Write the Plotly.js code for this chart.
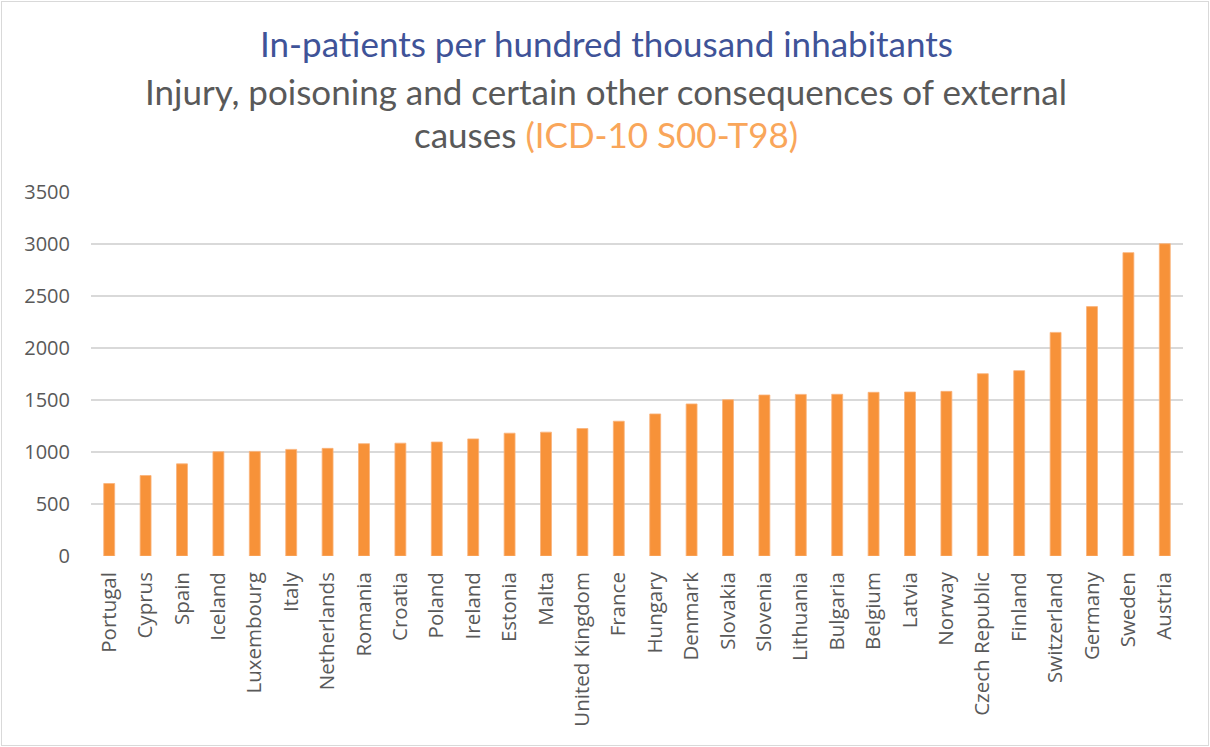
<!DOCTYPE html>
<html>
<head>
<meta charset="utf-8">
<script src="https://cdn.plot.ly/plotly-3.0.1.min.js"></script>
<style>
html,body{margin:0;padding:0;background:#fff;}
#wrap{position:absolute;left:1px;top:1px;width:1206px;height:743px;border:1px solid #d9d9d9;}
#chart{width:1206px;height:743px;}
</style>
</head>
<body>
<div id="wrap"><div id="chart"></div></div>
<script>
const countries = ["Portugal","Cyprus","Spain","Iceland","Luxembourg","Italy","Netherlands","Romania","Croatia","Poland","Ireland","Estonia","Malta","United Kingdom","France","Hungary","Denmark","Slovakia","Slovenia","Lithuania","Bulgaria","Belgium","Latvia","Norway","Czech Republic","Finland","Switzerland","Germany","Sweden","Austria"];
const inpatients = [697,774,886,1003,1006,1025,1035,1080,1085,1096,1126,1181,1191,1226,1296,1366,1462,1503,1548,1554,1555,1574,1577,1583,1753,1782,2150,2398,2917,3003];
const yTicks = [0,500,1000,1500,2000,2500,3000,3500];
const titleLine1 = "In-patients per hundred thousand inhabitants";
const titleLine2 = "Injury, poisoning and certain other consequences of external";
const titleLine3a = "causes ";
const titleLine3b = "(ICD-10 S00-T98)";

const titleFont = "Lato, sans-serif";
const tickFont = "'Open Sans', sans-serif";

const trace = {
  type: 'bar',
  x: countries,
  y: inpatients,
  marker: {color: '#F79239', line: {color: '#FAB27A', width: 0.8}},
  hoverinfo: 'x+y'
};

const layout = {
  width: 1206, height: 743,
  margin: {l: 89, r: 25, t: 190, b: 189},
  paper_bgcolor: '#fff', plot_bgcolor: '#fff',
  showlegend: false,
  bargap: 0.7,
  font: {family: tickFont, color: '#595959'},
  xaxis: {
    type: 'category',
    tickangle: -90,
    tickfont: {size: 20.5, color: '#595959', family: tickFont},
    showgrid: false, zeroline: false, showline: false, ticks: '',
    ticklabelstandoff: 11,
    fixedrange: true
  },
  yaxis: {
    range: [0, 3500],
    tickvals: yTicks,
    ticktext: yTicks.map(String),
    tickfont: {size: 20, color: '#595959', family: tickFont},
    showgrid: true, gridcolor: '#d9d9d9', gridwidth: 1.5,
    zeroline: false, showline: false, ticks: '',
    ticklabelstandoff: 20,
    fixedrange: true
  },
  annotations: [
    {text: titleLine1, xref: 'paper', yref: 'paper', x: 0.472, y: 1.408, xanchor: 'center', yanchor: 'middle', showarrow: false,
     font: {size: 35, color: '#3F5398', family: titleFont}},
    {text: titleLine2, xref: 'paper', yref: 'paper', x: 0.472, y: 1.278, xanchor: 'center', yanchor: 'middle', showarrow: false,
     font: {size: 35, color: '#595959', family: titleFont}},
    {text: titleLine3a + "<span style='color:#F9A65A'>" + titleLine3b + "</span>", xref: 'paper', yref: 'paper', x: 0.472, y: 1.159, xanchor: 'center', yanchor: 'middle', showarrow: false,
     font: {size: 35, color: '#595959', family: titleFont}}
  ]
};

Plotly.newPlot('chart', [trace], layout, {displayModeBar: false, staticPlot: true});
</script>
</body>
</html>
